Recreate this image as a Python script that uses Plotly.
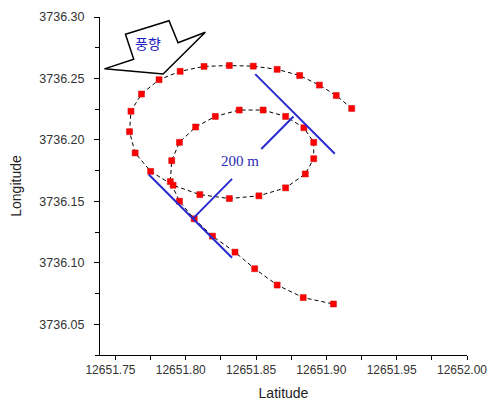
import plotly.graph_objects as go

# Track data (Latitude, Longitude)
lat = [12651.918, 12651.907, 12651.895, 12651.881, 12651.865, 12651.848, 12651.831,
       12651.813, 12651.796, 12651.781, 12651.7685, 12651.761, 12651.760, 12651.764,
       12651.775, 12651.791, 12651.810, 12651.831, 12651.852, 12651.871, 12651.885,
       12651.891, 12651.891, 12651.884, 12651.871, 12651.855, 12651.838, 12651.821,
       12651.807, 12651.7955, 12651.790, 12651.789, 12651.7955, 12651.806, 12651.819,
       12651.835, 12651.849, 12651.865, 12651.8835, 12651.905]
lon = [3736.2256, 3736.2361, 3736.2446, 3736.2524, 3736.2574, 3736.2600, 3736.2605,
       3736.2598, 3736.2558, 3736.2490, 3736.2373, 3736.2233, 3736.2067, 3736.1894,
       3736.1744, 3736.1631, 3736.1555, 3736.1523, 3736.1545, 3736.1610, 3736.1723,
       3736.1847, 3736.1980, 3736.2099, 3736.2191, 3736.2243, 3736.2243, 3736.2191,
       3736.2105, 3736.1980, 3736.1831, 3736.1661, 3736.1501, 3736.1358, 3736.1217,
       3736.1087, 3736.0952, 3736.0819, 3736.0717, 3736.0665]

x_ticks = [12651.75, 12651.80, 12651.85, 12651.90, 12651.95, 12652.00]
y_ticks = [3736.05, 3736.10, 3736.15, 3736.20, 3736.25, 3736.30]
x_tick_labels = ["12651.75", "12651.80", "12651.85", "12651.90", "12651.95", "12652.00"]
y_tick_labels = ["3736.05", "3736.10", "3736.15", "3736.20", "3736.25", "3736.30"]

# Annotation geometry (data units)
blue_lines = [
    ((12651.8494, 3736.2535), (12651.9060, 3736.1888)),
    ((12651.8766, 3736.2191), (12651.8537, 3736.1926)),
    ((12651.7737, 3736.1718), (12651.8329, 3736.1041)),
    ((12651.8056, 3736.1366), (12651.8329, 3736.1683)),
]
arrow_x = [12651.7422, 12651.7630, 12651.7571, 12651.7881, 12651.7945, 12651.8139, 12651.7839]
arrow_y = [3736.2578, 3736.2657, 3736.2860, 3736.2970, 3736.2791, 3736.2876, 3736.2537]
arrow_label = "풍향"
arrow_label_pos = (12651.7734, 3736.2789)
dist_label = "200 m"
dist_label_pos = (12651.8388, 3736.1826)

fig = go.Figure()
fig.add_trace(go.Scatter(
    x=lat, y=lon, mode="lines+markers",
    line=dict(color="black", width=1, dash="4px,3px"),
    marker=dict(symbol="square", size=6, color="#ff0000",
                line=dict(color="#d00000", width=0.5)),
    showlegend=False, hoverinfo="skip"))

shapes = []
for (x0, y0), (x1, y1) in blue_lines:
    shapes.append(dict(type="line", x0=x0, y0=y0, x1=x1, y1=y1, xref="x", yref="y",
                       line=dict(color="#2a2ad0", width=2), layer="above"))
path = "M " + " L ".join(f"{a},{b}" for a, b in zip(arrow_x, arrow_y)) + " Z"
shapes.append(dict(type="path", path=path, xref="x", yref="y",
                   fillcolor="white", line=dict(color="black", width=1.5), layer="above"))

xtickfont = dict(family="Liberation Sans", size=12, color="#333")
ytickfont = dict(family="Liberation Sans", size=12.5, color="#333")
titlefont = dict(family="Liberation Sans", size=14, color="#222")

fig.update_layout(
    width=496, height=402,
    margin=dict(l=92, r=37, t=9, b=55),
    paper_bgcolor="white", plot_bgcolor="white",
    shapes=shapes,
    annotations=[
        dict(x=arrow_label_pos[0], y=arrow_label_pos[1], xref="x", yref="y",
             text=arrow_label, showarrow=False,
             font=dict(family="Noto Sans CJK KR", size=14, color="#2020c0")),
        dict(x=dist_label_pos[0], y=dist_label_pos[1], xref="x", yref="y",
             text=dist_label, showarrow=False, bgcolor="white",
             font=dict(family="Liberation Serif", size=15, color="#2a2ab0")),
    ],
    xaxis=dict(range=[12651.739, 12652.0], tickvals=x_ticks,
               ticktext=x_tick_labels, automargin=False,
               ticklabeloverflow="allow", ticklabelshift=-5,
               showgrid=False, zeroline=False, showline=True, linecolor="black",
               linewidth=1, ticks="outside", ticklen=4, tickcolor="black",
               minor=dict(ticks="outside", dtick=0.025, tick0=12651.75, ticklen=4,
                          tickcolor="black", showgrid=False),
               tickfont=xtickfont,
               title=dict(text="Latitude", standoff=11, font=titlefont)),
    yaxis=dict(range=[3736.025, 3736.30], tickvals=y_ticks,
               ticktext=y_tick_labels, automargin=False,
               ticklabeloverflow="allow",
               showgrid=False, zeroline=False, showline=True, linecolor="black",
               linewidth=1, ticks="outside", ticklen=5, tickcolor="black",
               minor=dict(ticks="outside", dtick=0.025, tick0=3736.025, ticklen=4,
                          tickcolor="black", showgrid=False),
               tickfont=ytickfont, ticklabelstandoff=7,
               title=dict(text="Longitude", standoff=22, font=titlefont)),
)

fig.write_html("out.html")
